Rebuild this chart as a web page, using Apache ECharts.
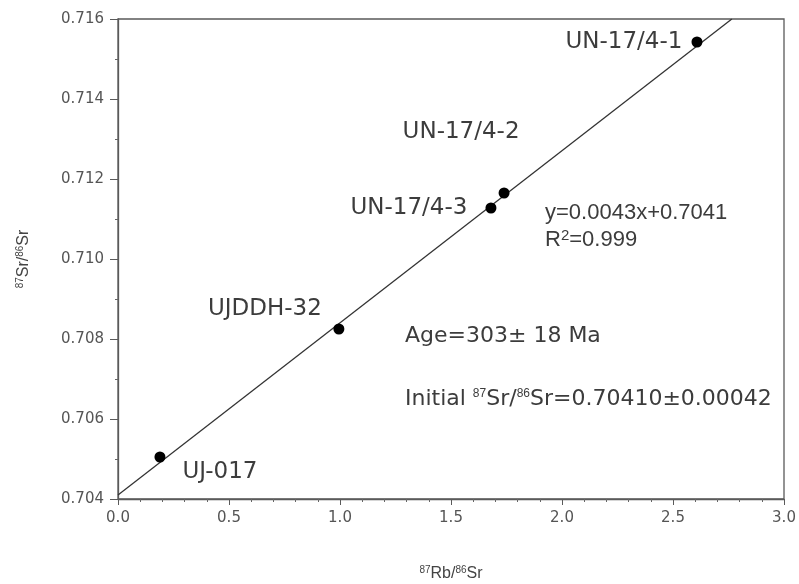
<!DOCTYPE html>
<html>
<head>
<meta charset="utf-8">
<script src="https://cdn.jsdelivr.net/npm/echarts@6/dist/echarts.min.js"></script>
<style>html,body{margin:0;padding:0;background:#fff}#c{width:799px;height:584px}</style>
</head>
<body>
<div id="c"></div>
<script>
// Data
var sampleNames = ['UJ-017', 'UJDDH-32', 'UN-17/4-3', 'UN-17/4-2', 'UN-17/4-1'];
var rbSr = [0.189, 0.995, 1.680, 1.739, 2.608];
var srSr = [0.70505, 0.70825, 0.711275, 0.71165, 0.715425];
// regression line endpoints (y = 0.0043x + 0.7041)
var fitX = [0, 2.765];
var fitY = [0.7041, 0.716];
var xTicks = [0, 0.5, 1.0, 1.5, 2.0, 2.5, 3.0];
var yTicks = [0.704, 0.706, 0.708, 0.710, 0.712, 0.714, 0.716];

// label placement (offset of label centre from point centre, px)
var labelOffsets = [[60, 15], [-74, -20], [-82, 0], [-43, -61], [-73, 0]];

var txtColor = '#3c3c3c';
var chart = echarts.init(document.getElementById('c'));
var pts = rbSr.map(function (x, i) {
  return {
    value: [x, srSr[i]],
    name: sampleNames[i],
    label: { show: true, position: 'inside', offset: labelOffsets[i], formatter: '{b}',
             color: txtColor, fontSize: 23, fontFamily: 'DejaVu Sans', textBorderWidth: 0, opacity: 1 }
  };
});
var line = fitX.map(function (x, i) { return [x, fitY[i]]; });
var supStyle = { fontSize: 10, verticalAlign: 'top', color: '#444', padding: [0, 0, 7, 0], fontFamily: 'Liberation Sans' };
chart.setOption({
  animation: false,
  backgroundColor: '#fff',
  grid: { left: 118, right: 15, top: 19, bottom: 85, containLabel: false, outerBoundsMode: 'none',
          show: true, borderColor: '#5a5a5a', borderWidth: 1.3, backgroundColor: 'transparent' },
  xAxis: {
    type: 'value', min: xTicks[0], max: xTicks[xTicks.length - 1], interval: 0.5,
    axisLine: { show: true, lineStyle: { color: '#5a5a5a', width: 1.3 } },
    axisTick: { show: true, length: 6, lineStyle: { color: '#5a5a5a' } },
    minorTick: { show: true, splitNumber: 5, length: 3, lineStyle: { color: '#666' } },
    splitLine: { show: false },
    axisLabel: { color: '#555', fontSize: 15, fontFamily: 'DejaVu Sans', margin: 12, formatter: function (v) { return v.toFixed(1); } },
    name: '{s|87}Rb/{s|86}Sr', nameLocation: 'middle', nameGap: 66,
    nameTextStyle: { color: '#444', fontSize: 16, fontFamily: 'Liberation Sans', rich: { s: supStyle } }
  },
  yAxis: {
    type: 'value', min: yTicks[0], max: yTicks[yTicks.length - 1], interval: 0.002,
    axisLine: { show: true, lineStyle: { color: '#5a5a5a', width: 1.3 } },
    axisTick: { show: true, length: 8, lineStyle: { color: '#5a5a5a' } },
    minorTick: { show: true, splitNumber: 2, length: 3, lineStyle: { color: '#666' } },
    splitLine: { show: false },
    axisLabel: { color: '#555', fontSize: 15, fontFamily: 'DejaVu Sans', margin: 14, formatter: function (v) { return v.toFixed(3); } },
    name: '{s|87}Sr/{s|86}Sr', nameLocation: 'middle', nameGap: 86, nameRotate: 90,
    nameTextStyle: { color: '#444', fontSize: 16, fontFamily: 'Liberation Sans', rich: { s: supStyle } }
  },
  series: [
    {
      type: 'line', data: line, showSymbol: false, symbol: 'none',
      lineStyle: { color: '#333', width: 1.3 }, z: 2, silent: true
    },
    {
      type: 'scatter', data: pts, symbol: 'circle', symbolSize: 11,
      itemStyle: { color: '#000', opacity: 1 }, z: 3
    }
  ],
  graphic: [
    { type: 'text', left: 545, top: 202, style: { text: 'y=0.0043x+0.7041', fill: txtColor, font: '22px "Liberation Sans"' } },
    { type: 'text', left: 545, top: 228, style: { text: 'R{s|2}=0.999', fill: txtColor, font: '22px "Liberation Sans"', rich: { s: { fontSize: 15, verticalAlign: 'top', fill: txtColor, padding: [0, 0, 8, 0] } } } },
    { type: 'text', left: 405, top: 325, style: { text: 'Age=303± 18 Ma', fill: txtColor, font: '22px "DejaVu Sans"' } },
    { type: 'text', left: 405, top: 388, style: { text: 'Initial {s|87}Sr/{s|86}Sr=0.70410±0.00042', fill: txtColor, font: '22px "DejaVu Sans"', rich: { s: { fontSize: 12, verticalAlign: 'top', fill: txtColor, padding: [0, 0, 9, 0] } } } }
  ]
});
</script>
</body>
</html>
